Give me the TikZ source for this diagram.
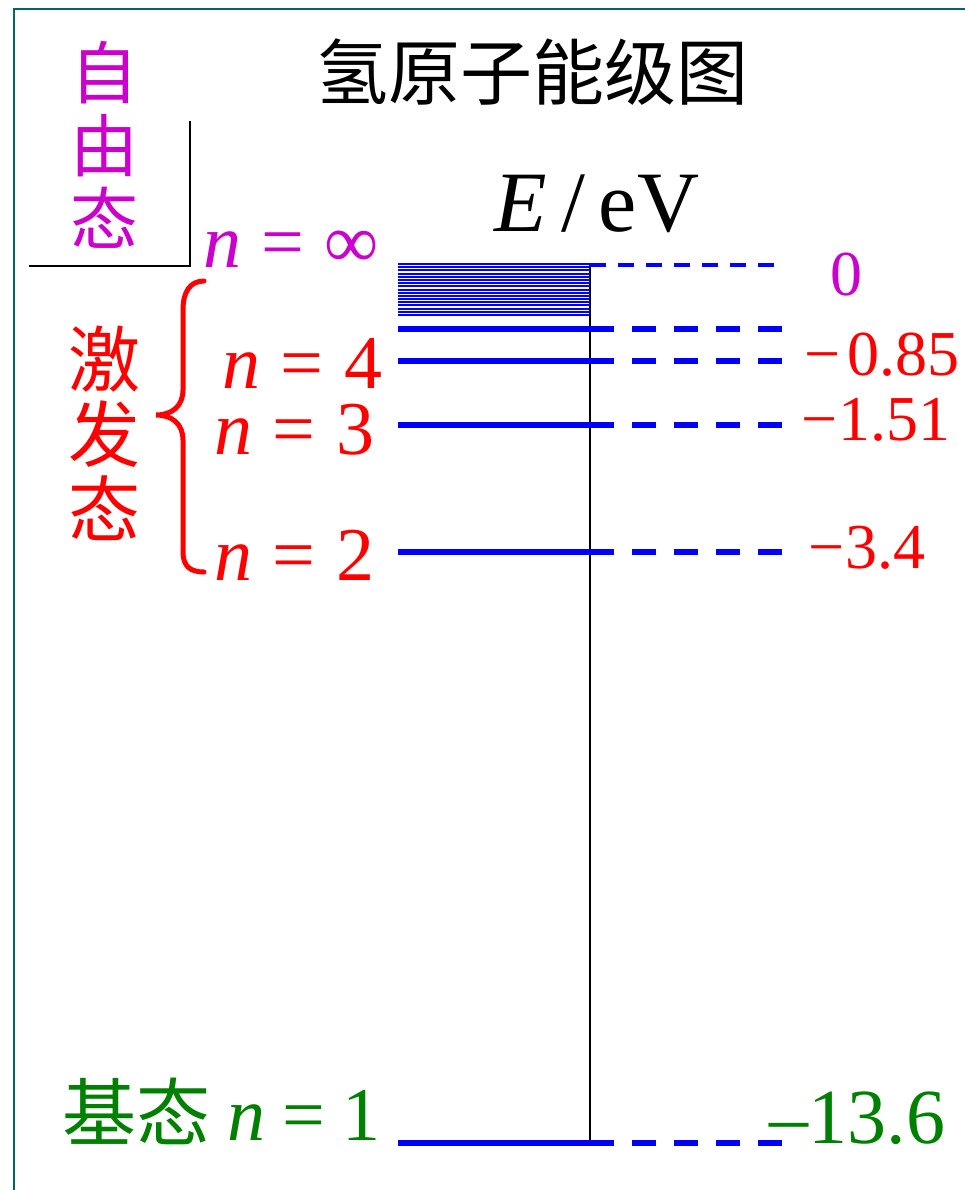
\documentclass[tikz,border=0pt]{standalone}
\usepackage{fontspec}
\setmainfont{Liberation Serif}
\newfontfamily\cjk{Noto Sans CJK SC}
\definecolor{mag}{RGB}{204,0,204}
\definecolor{lvlred}{RGB}{255,0,0}
\definecolor{grn}{RGB}{0,128,0}
\definecolor{lvlblue}{RGB}{0,0,255}
\definecolor{frame}{RGB}{0,102,102}
\begin{document}
\begin{tikzpicture}[x=1pt,y=-1pt,
  txt/.style={inner sep=0pt, outer sep=0pt},
  big/.style={font=\fontsize{76}{76}\selectfont, text height=0.7em, text depth=0pt},
  val/.style={font=\fontsize{64}{64}\selectfont, text height=0.7em, text depth=0pt},
  lvl/.style={lvlblue, line width=6pt},
  dsh/.style={lvlblue, line width=6pt, dash pattern=on 24pt off 18pt},
  topdsh/.style={lvlblue, line width=4pt, dash pattern=on 16pt off 12pt},
  hatch/.style={lvlblue, line width=2pt}]
\useasboundingbox (0,0) rectangle (965,1190);
% frame
\coordinate (fbl) at (14,1190);
\coordinate (ftl) at (14,9);
\coordinate (ftr) at (965,9);
\draw[frame, line width=1.6pt] (fbl) -- (ftl) -- (ftr);
% title
\node[txt, font=\cjk\fontsize{72}{72}\selectfont] (title) at (532,72) {氢原子能级图};
% free state label and corner
\node[txt, mag, align=center, font=\cjk\fontsize{68}{73}\selectfont] (free) at (104,145) {自\\由\\态};
\coordinate (c1) at (190,121);
\coordinate (c2) at (190,266);
\coordinate (c3) at (29,266);
\draw[line width=1.3pt] (c1) -- (c2) -- (c3);
% axis label
\node[txt, anchor=base, font=\fontsize{86}{86}\selectfont] (axlab) at (597,232) {\textit{E}\hspace{0.16em}/\hspace{0.16em}eV};
% axis
\coordinate (axtop) at (590,265);
\coordinate (axbot) at (590,1143);
\draw[line width=1.5pt] (axtop) -- (axbot);
% continuum hatch
\foreach \i in {0,...,16}{
  \coordinate (h\i a) at (398,264+\i*3.1875);
  \coordinate (h\i b) at (590,264+\i*3.1875);
  \draw[hatch] (h\i a) -- (h\i b);
}
\coordinate (inf0) at (590,265);
\coordinate (inf1) at (774,265);
\draw[topdsh] (inf0) -- (inf1);
% levels
\foreach \nm/\y in {l5/329,l4/361,l3/425,l2/552,l1/1143}{
  \coordinate (\nm a) at (398,\y);
  \coordinate (\nm b) at (614,\y);
  \coordinate (\nm c) at (632,\y);
  \coordinate (\nm d) at (782,\y);
  \draw[lvl] (\nm a) -- (\nm b);
  \draw[dsh] (\nm c) -- (\nm d);
}
% left labels
\node[txt, mag, big, anchor=base west] (ninf) at (203,267) {\textit{n}\hspace{0.27em}=\hspace{0.27em}∞};
\node[txt, lvlred, big, anchor=base east] (n4) at (382,388) {\textit{n}\hspace{0.27em}=\hspace{0.27em}4};
\node[txt, lvlred, big, anchor=base east] (n3) at (374,454) {\textit{n}\hspace{0.27em}=\hspace{0.27em}3};
\node[txt, lvlred, big, anchor=base east] (n2) at (374,580) {\textit{n}\hspace{0.27em}=\hspace{0.27em}2};
\node[txt, lvlred, align=center, font=\cjk\fontsize{72}{75}\selectfont] (exc) at (104,433) {激\\发\\态};
% brace
\coordinate (bt) at (204,281);
\coordinate (bm) at (156,415);
\coordinate (bb) at (204,572);
\draw[lvlred, line width=5pt, line cap=round]
  (bt) .. controls (190,281) and (183,292) .. (183,310) -- (183,390)
  .. controls (183,406) and (172,415) .. (bm)
  .. controls (172,415) and (183,424) .. (183,440) -- (183,552)
  .. controls (183,566) and (190,572) .. (bb);
% ground state label
\node[txt, grn, anchor=base east, font=\fontsize{76}{76}\selectfont] (n1) at (380,1140) {{\cjk\fontsize{74}{74}\selectfont 基态}\hspace{0.22em}\textit{n}\hspace{0.22em}=\hspace{0.22em}1};
% values
\node[txt, mag, val, anchor=base] (v0) at (846,295) {0};
\node[txt, lvlred, val, anchor=base east] (v4) at (960,375) {−\hspace{0.12em}0.85};
\node[txt, lvlred, val, anchor=base east] (v3) at (950,440) {−1.51};
\node[txt, lvlred, val, anchor=base east] (v2) at (925,568) {−3.4};
\node[txt, grn, anchor=base east, font=\fontsize{78}{78}\selectfont] (v1) at (945,1143) {–13.6};
\end{tikzpicture}
\end{document}
